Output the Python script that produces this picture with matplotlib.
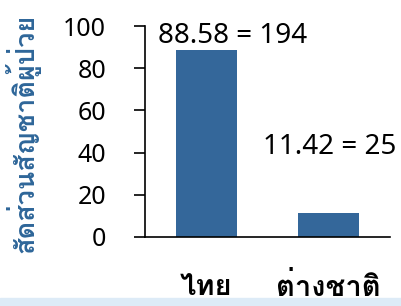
import matplotlib
matplotlib.use("Agg")
import matplotlib.pyplot as plt
from matplotlib.patches import Rectangle

# ========================= DATA =========================
categories = ["ไทย", "ต่างชาติ"]
percent = [88.58, 11.42]
counts = [194, 25]
y_ticks = [0, 20, 40, 60, 80, 100]
y_label = "สัดส่วนสัญชาติผู้ป่วย"
# ========================================================

BAR_COLOR = "#34679A"
LABEL_COLOR = "#2E6699"
THAI_FONT = ['Loma', 'Noto Sans', 'DejaVu Sans']

plt.rcParams['font.family'] = ['Noto Sans', 'DejaVu Sans']

fig = plt.figure(figsize=(4.02, 3.06), dpi=100)
ax = fig.add_axes([145 / 402, 1 - 237 / 306, 245 / 402, 211 / 306])

x = list(range(len(categories)))
ax.bar(x, percent, width=0.5, color=BAR_COLOR)

ax.set_xlim(-0.5, 1.5)
ax.set_ylim(0, 100)
ax.set_yticks(y_ticks)
ax.set_xticks(x)
ax.set_xticklabels(categories, fontsize=21, fontweight='bold', family=THAI_FONT)
ax.tick_params(axis='y', length=8, width=1.2, pad=20, labelsize=18)
ax.tick_params(axis='x', length=0, pad=26)

for s in ['top', 'right']:
    ax.spines[s].set_visible(False)
for s in ['left', 'bottom']:
    ax.spines[s].set_linewidth(1.2)

# value labels (percent = count), baseline-aligned
label_pos = [(-0.39, 92), (0.46, 39.3)]
for (lx, ly), p, n in zip(label_pos, percent, counts):
    ax.text(lx, ly, f"{p:.2f} = {n}", fontsize=20, ha='left', va='baseline')

fig.text(22 / 402, 1 - 133 / 306, y_label, rotation=90, ha='center', va='center',
         fontsize=19.5, fontweight='bold', color=LABEL_COLOR, family=THAI_FONT)

# light blue band at the bottom edge
fig.patches.append(Rectangle((0, 0), 1, 8 / 306, transform=fig.transFigure,
                             color='#DDEBF7', zorder=3))

fig.savefig("out.png", dpi=100)
